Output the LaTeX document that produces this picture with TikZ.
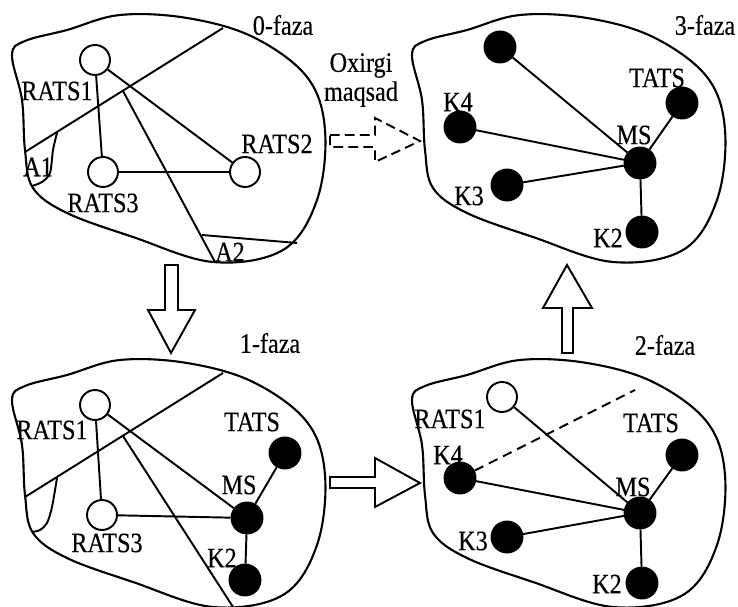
\documentclass[tikz,border=0pt]{standalone}
\usepackage{fontspec}
\setmainfont[FakeStretch=0.86,FakeBold=0.35]{Liberation Serif}
\usetikzlibrary{positioning}

\tikzset{
  zone/.pic={\draw[line width=1.2pt] plot[smooth cycle, tension=0.6] coordinates {(12,55) (22,100) (25,150) (33,188) (67,213) (133,237) (213,262) (283,250) (317,200) (325,130) (307,77) (253,37) (187,18) (120,15) (67,30) (25,41)};},
  rats/.style={circle, draw, line width=1.1pt, fill=white, minimum size=0.6cm, inner sep=0pt},
  stn/.style={circle, draw, line width=1.1pt, fill=black, minimum size=0.62cm, inner sep=0pt},
  lbl/.style={font=\fontsize{16}{16.5}\selectfont, inner sep=0pt},
  link/.style={line width=1.1pt},
  fat/.style={line width=1.1pt, fill=white, line join=miter},
}

\begin{document}
\begin{tikzpicture}[x=0.02cm, y=-0.02cm]
\useasboundingbox (0,0) rectangle (738,607);

% four zones
\pic at (0,0) {zone};
\pic at (400,0) {zone};
\pic at (0,345) {zone};
\pic at (400,345) {zone};

% ---- 0-faza ----
\node[lbl] (f0) at (283,25) {0-faza};
\draw[link] (25,152) -- (223,28);
\draw[link] (123,91) -- (215,262);
\draw[link] (202,235) -- (297,243);
\draw[link] plot[smooth] coordinates {(57,133) (53,150) (50,173) (42,182) (32,186)};
\node[lbl] (a1) at (38,167) {A1};
\node[lbl] (a2) at (230,252) {A2};
\node[rats] (r1) at (95,60) {};
\node[rats] (r3) at (103,172) {};
\node[rats] (r2) at (245,172) {};
\node[lbl] (r1l) at (57,91) {RATS1};
\node[lbl] (r3l) at (103,203) {RATS3};
\node[lbl] (r2l) at (277,144) {RATS2};
\draw[link] (r1) -- (r3);
\draw[link] (r1) -- (r2);
\draw[link] (r3) -- (r2);

% ---- 1-faza ----
\node[lbl] (f1) at (270,343) {1-faza};
\draw[link] (25,497) -- (223,373);
\draw[link] (123,436) -- (233,607);
\draw[link] plot[smooth] coordinates {(57,478) (52,507) (47,523) (40,530) (32,532)};
\node[rats] (p1r1) at (95,405) {};
\node[rats] (p1r3) at (102,515) {};
\node[stn] (p1ms) at (247,518) {};
\node[stn] (p1ta) at (285,453) {};
\node[stn] (p1k2) at (245,580) {};
\node[lbl] (p1r1l) at (52,430) {RATS1};
\node[lbl] (p1r3l) at (107,543) {RATS3};
\node[lbl] (p1tal) at (252,422) {TATS};
\node[lbl] (p1msl) at (239,485) {MS};
\node[lbl] (p1k2l) at (222,558) {K2};
\draw[link] (p1r1) -- (p1r3);
\draw[link] (p1r1) -- (p1ms);
\draw[link] (p1r3) -- (p1ms);
\draw[link] (p1ms) -- (p1ta);
\draw[link] (p1ms) -- (p1k2);

% ---- 2-faza ----
\node[lbl] (f2) at (665,345) {2-faza};
\node[rats] (p2r1) at (502,397) {};
\node[stn] (p2k4) at (460,478) {};
\node[stn] (p2k3) at (507,537) {};
\node[stn] (p2ms) at (640,513) {};
\node[stn] (p2ta) at (682,455) {};
\node[stn] (p2k2) at (642,583) {};
\node[lbl] (p2r1l) at (450,419) {RATS1};
\node[lbl] (p2k4l) at (448,455) {K4};
\node[lbl] (p2k3l) at (473,541) {K3};
\node[lbl] (p2msl) at (633,487) {MS};
\node[lbl] (p2tal) at (651,423) {TATS};
\node[lbl] (p2k2l) at (607,584) {K2};
\coordinate (cut) at (635,390);
\draw[link] (p2r1) -- (p2ms);
\draw[link] (p2k4) -- (p2ms);
\draw[link] (p2k3) -- (p2ms);
\draw[link] (p2ta) -- (p2ms);
\draw[link] (p2k2) -- (p2ms);
\draw[link, dash pattern=on 5.5pt off 3.5pt] (p2k4) -- (cut);

% ---- 3-faza ----
\node[lbl] (f3) at (705,25) {3-faza};
\node[stn] (p3top) at (500,47) {};
\node[stn] (p3k4) at (460,127) {};
\node[stn] (p3k3) at (507,185) {};
\node[stn] (p3ms) at (640,163) {};
\node[stn] (p3ta) at (682,103) {};
\node[stn] (p3k2) at (642,232) {};
\node[lbl] (p3k4l) at (458,102) {K4};
\node[lbl] (p3k3l) at (469,196) {K3};
\node[lbl] (p3msl) at (634,135) {MS};
\node[lbl] (p3tal) at (657,78) {TATS};
\node[lbl] (p3k2l) at (608,238) {K2};
\draw[link] (p3top) -- (p3ms);
\draw[link] (p3k4) -- (p3ms);
\draw[link] (p3k3) -- (p3ms);
\draw[link] (p3ta) -- (p3ms);
\draw[link] (p3k2) -- (p3ms);

% block arrows between phases
\draw[fat] (165,265) -- (178,265) -- (178,310) -- (195,310) -- (171,353) -- (148,310) -- (165,310) -- cycle;
\draw[fat] (330,477) -- (375,477) -- (375,458) -- (420,483) -- (375,507) -- (375,488) -- (330,488) -- cycle;
\draw[fat] (562,353) -- (562,308) -- (543,308) -- (567,265) -- (592,308) -- (573,308) -- (573,353) -- cycle;
\draw[fat, dash pattern=on 5.5pt off 3pt] (330,135) -- (375,135) -- (375,118) -- (420,141) -- (375,162) -- (375,147) -- (330,147) -- cycle;
\node[lbl, align=center] (goal) at (361,80) {Oxirgi\\maqsad};
\end{tikzpicture}
\end{document}
